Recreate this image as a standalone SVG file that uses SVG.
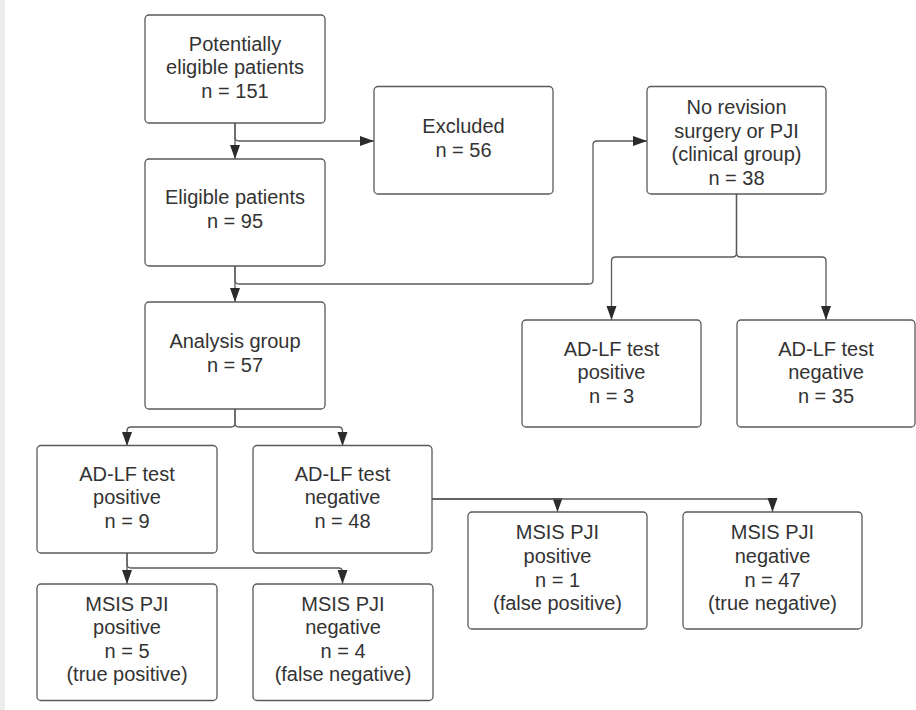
<svg xmlns="http://www.w3.org/2000/svg" width="916" height="710" viewBox="0 0 916 710">
<style>
.box{fill:#fff;stroke:#5a5a5a;stroke-width:1.3}
.t{font-family:"Liberation Sans",Arial,sans-serif;font-size:20px;fill:#333;text-anchor:middle}
.c{fill:none;stroke:#5a5a5a;stroke-width:1.3}
</style>
<defs>
<marker id="ah" markerUnits="userSpaceOnUse" viewBox="0 0 15 11" markerWidth="15" markerHeight="11" refX="14.5" refY="5.5" orient="auto">
<path d="M0.5,0.5 L14.5,5.5 L0.5,10.5 z" fill="#2b2b2b"/>
</marker>
</defs>
<rect x="0" y="0" width="916" height="710" fill="#fff"/>
<rect x="0" y="0" width="5" height="710" fill="#ececec"/>
<g id="connectors">
<path class="c" d="M235,123 V159" marker-end="url(#ah)"/>
<path class="c" d="M235,123 V137 Q235,141 239,141 H374" marker-end="url(#ah)"/>
<path class="c" d="M235,266 V302" marker-end="url(#ah)"/>
<path class="c" d="M235,266 V280 Q235,284 239,284 H589 Q593,284 593,280 V145 Q593,141 597,141 H647" marker-end="url(#ah)"/>
<path class="c" d="M736.5,194 V253 Q736.5,257 732.5,257 H615.5 Q611.5,257 611.5,261 V320" marker-end="url(#ah)"/>
<path class="c" d="M736.5,194 V253 Q736.5,257 740.5,257 H822 Q826,257 826,261 V320" marker-end="url(#ah)"/>
<path class="c" d="M235,409 V423 Q235,427 231,427 H131 Q127,427 127,431 V446" marker-end="url(#ah)"/>
<path class="c" d="M235,409 V423 Q235,427 239,427 H338.5 Q342.5,427 342.5,431 V446" marker-end="url(#ah)"/>
<path class="c" d="M127,553 V584" marker-end="url(#ah)"/>
<path class="c" d="M127,553 V564 Q127,568 131,568 H338.5 Q342.5,568 342.5,572 V584" marker-end="url(#ah)"/>
<path class="c" d="M432,499 H553.5 Q557.5,499 557.5,503 V512" marker-end="url(#ah)"/>
<path class="c" d="M432,499 H768.5 Q772.5,499 772.5,503 V512" marker-end="url(#ah)"/>
</g>
<g id="potentially">
<rect class="box" x="145" y="15" width="180" height="108" rx="4"/>
<text class="t" x="235" y="50.7">Potentially</text>
<text class="t" x="235" y="74">eligible patients</text>
<text class="t" x="235" y="97.7">n = 151</text>
</g>
<g id="eligible">
<rect class="box" x="145" y="159" width="180" height="107" rx="4"/>
<text class="t" x="235" y="204.3">Eligible patients</text>
<text class="t" x="235" y="228.3">n = 95</text>
</g>
<g id="excluded">
<rect class="box" x="374" y="86.5" width="179" height="107.5" rx="4"/>
<text class="t" x="463.5" y="132.7">Excluded</text>
<text class="t" x="463.5" y="156.7">n = 56</text>
</g>
<g id="clinical">
<rect class="box" x="647" y="86.5" width="179" height="107.5" rx="4"/>
<text class="t" x="736.5" y="113.7">No revision</text>
<text class="t" x="736.5" y="137.7">surgery or PJI</text>
<text class="t" x="736.5" y="161.3">(clinical group)</text>
<text class="t" x="736.5" y="185">n = 38</text>
</g>
<g id="analysis">
<rect class="box" x="145" y="302" width="180" height="107" rx="4"/>
<text class="t" x="235" y="348.3">Analysis group</text>
<text class="t" x="235" y="371.7">n = 57</text>
</g>
<g id="clin-pos">
<rect class="box" x="522" y="320" width="179" height="107" rx="4"/>
<text class="t" x="611.5" y="355.5">AD-LF test</text>
<text class="t" x="611.5" y="379">positive</text>
<text class="t" x="611.5" y="402.7">n = 3</text>
</g>
<g id="clin-neg">
<rect class="box" x="737" y="320" width="178" height="107" rx="4"/>
<text class="t" x="826" y="355.5">AD-LF test</text>
<text class="t" x="826" y="379">negative</text>
<text class="t" x="826" y="402.7">n = 35</text>
</g>
<g id="ad-pos">
<rect class="box" x="37" y="445.5" width="180" height="107.5" rx="4"/>
<text class="t" x="127" y="480.5">AD-LF test</text>
<text class="t" x="127" y="504">positive</text>
<text class="t" x="127" y="527.7">n = 9</text>
</g>
<g id="ad-neg">
<rect class="box" x="253" y="445.5" width="179" height="107.5" rx="4"/>
<text class="t" x="342.5" y="480.5">AD-LF test</text>
<text class="t" x="342.5" y="504">negative</text>
<text class="t" x="342.5" y="527.7">n = 48</text>
</g>
<g id="tp">
<rect class="box" x="37" y="584" width="180" height="116.5" rx="4"/>
<text class="t" x="127" y="610.7">MSIS PJI</text>
<text class="t" x="127" y="634.3">positive</text>
<text class="t" x="127" y="658.3">n = 5</text>
<text class="t" x="127" y="681.3">(true positive)</text>
</g>
<g id="fn">
<rect class="box" x="253" y="584" width="180" height="116.5" rx="4"/>
<text class="t" x="343" y="610.7">MSIS PJI</text>
<text class="t" x="343" y="634.3">negative</text>
<text class="t" x="343" y="658.3">n = 4</text>
<text class="t" x="343" y="681.3">(false negative)</text>
</g>
<g id="fp">
<rect class="box" x="468" y="512" width="179" height="117" rx="4"/>
<text class="t" x="557.5" y="539.3">MSIS PJI</text>
<text class="t" x="557.5" y="562.8">positive</text>
<text class="t" x="557.5" y="586.8">n = 1</text>
<text class="t" x="557.5" y="609.8">(false positive)</text>
</g>
<g id="tn">
<rect class="box" x="683" y="512" width="179" height="117" rx="4"/>
<text class="t" x="772.5" y="539.3">MSIS PJI</text>
<text class="t" x="772.5" y="562.8">negative</text>
<text class="t" x="772.5" y="586.8">n = 47</text>
<text class="t" x="772.5" y="609.8">(true negative)</text>
</g>
</svg>
